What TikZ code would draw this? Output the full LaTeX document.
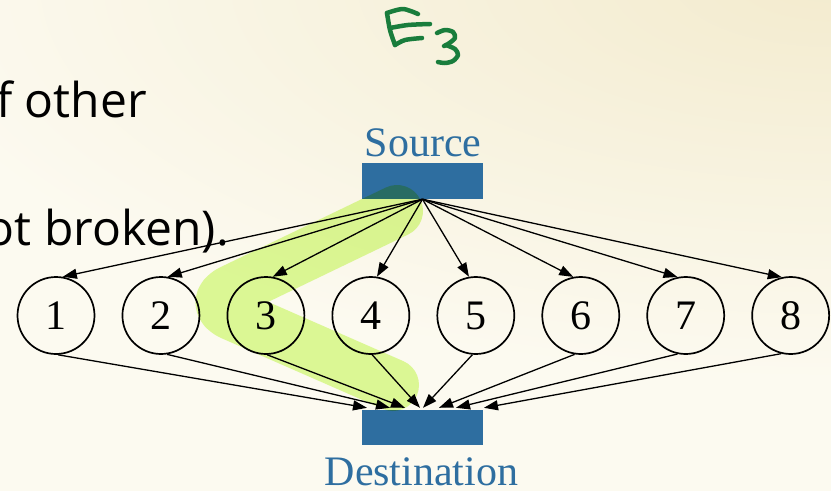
\documentclass[tikz,border=0pt]{standalone}
\usepackage{fontspec}
\setmainfont{Liberation Serif}
\newfontfamily\slidefont{Open Sans}
\usetikzlibrary{arrows.meta,calc}

\definecolor{paper}{RGB}{252,250,240}
\definecolor{papertint}{RGB}{243,235,206}
\definecolor{boxblue}{RGB}{46,110,160}
\definecolor{marker}{RGB}{222,252,158}
\definecolor{ink}{RGB}{25,125,60}

\begin{document}
\begin{tikzpicture}[x=1pt,y=-1pt,
  hop/.style={circle,draw,line width=1.7pt,minimum size=77pt,inner sep=0pt,
              font=\fontsize{42}{42}\selectfont},
  bar/.style={fill=boxblue,minimum width=121pt,minimum height=36pt,inner sep=0pt},
  boxlabel/.style={font=\fontsize{42}{42}\selectfont,text=boxblue,anchor=base,inner sep=0pt},
  slidetext/.style={font=\slidefont\fontsize{48}{48}\selectfont,anchor=base east,inner sep=0pt},
  link/.style={line width=1.3pt,-{Triangle[length=14pt,width=10pt]}},
  pen/.style={ink,line width=4.5pt,line cap=round,line join=round}]

\useasboundingbox (0,0) rectangle (831,491);

% slide background with a warm tint in the upper right corner
\fill[paper] (0,0) rectangle (831,491);
\begin{scope}
  \clip (0,0) rectangle (831,491);
  \shade[inner color=papertint,outer color=paper] (831,-20) ellipse [x radius=950,y radius=400];
\end{scope}

% fragments of the slide text
\node[slidetext] (line1) at (147,117) {f other};
\node[slidetext] (line2) at (229,245) {ot broken).};

% source and destination
\node[bar] (src) at (422.5,181) {};
\node[bar,minimum height=35pt] (dst) at (422.5,427.5) {};
\node[boxlabel] (srclabel) at (423,156) {Source};
\node[boxlabel] (dstlabel) at (421.5,485) {Destination};

% the eight parallel paths
\foreach \i in {1,...,8}
  \node[hop] (c\i) at ({56+104.95*(\i-1)},315.5) {\i};

\foreach \i/\a in {1/80,2/80,3/80,4/81,5/100,6/101,7/102,8/103}
  \draw[link] (src.south) -- (c\i.\a);

\foreach \i/\a/\dx in {1/-87/-55.5,2/-81/-32.5,3/-88/-17.5,4/-88/-2.5,
                       5/-95/0.5,6/-99/16.5,7/-102/33.5,8/-104/61.5}
  \draw[link] (c\i.\a) -- ($(dst.north)+(\dx,-2)$);

% highlighter stroke over path 3
\begin{scope}[blend mode=multiply]
  \draw[marker,line width=52pt,line cap=round,line join=round,rounded corners=29pt]
    (397,211) -- (206,303) -- (393,385);
\end{scope}

% handwritten E_3
\draw[pen] plot[smooth] coordinates {(387,13) (403,9) (418,14)};
\draw[pen] plot[smooth] coordinates {(387,13) (390,30) (395,45)};
\draw[pen] plot[smooth] coordinates {(390,28) (408,25) (430,24)};
\draw[pen] plot[smooth] coordinates {(395,45) (405,40) (422,38)};
\draw[pen] plot[smooth] coordinates {(437,33) (445,30) (453,32) (455,38) (448,44) (444,46)};
\draw[pen] plot[smooth] coordinates {(446,45) (455,49) (458,55) (453,61) (445,63) (438,62)};

\end{tikzpicture}
\end{document}
